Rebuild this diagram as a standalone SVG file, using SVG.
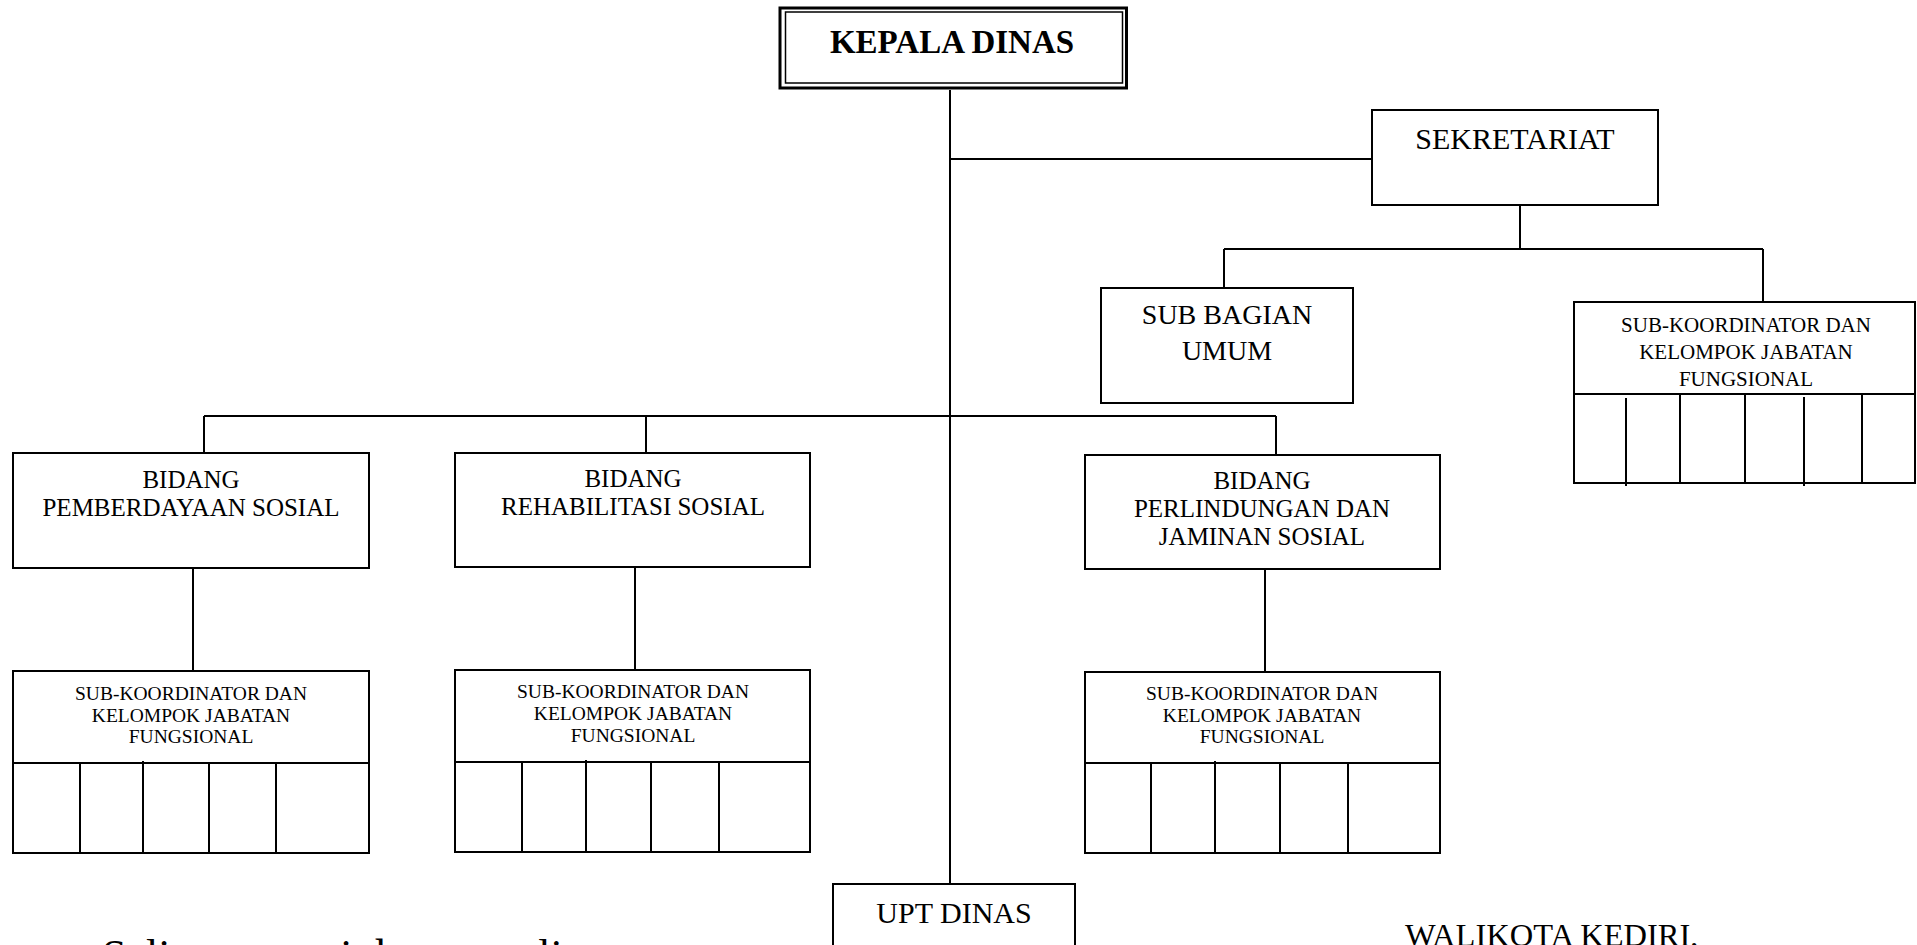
<svg xmlns="http://www.w3.org/2000/svg" width="1917" height="945" viewBox="0 0 1917 945">
<style>
  .box { fill: #ffffff; stroke: #000000; stroke-width: 2; }
  .ln { fill: none; stroke: #000000; stroke-width: 2; }
  .thin { fill: none; stroke: #000000; stroke-width: 1.6; }
  text { font-family: "Liberation Serif", "Times New Roman", serif; fill: #000000; text-anchor: middle; }
  .t30 { font-size: 30px; }
  .t28 { font-size: 28px; }
  .t25 { font-size: 25px; }
  .t21 { font-size: 21px; }
  .t19 { font-size: 19.5px; }
  .head { font-size: 33px; font-weight: bold; }
</style>
<rect x="0" y="0" width="1917" height="945" fill="#ffffff"/>

<g id="connectors">
  <line class="ln" x1="950" y1="90" x2="950" y2="884"/>
  <line class="ln" x1="950" y1="159" x2="1372" y2="159"/>
  <line class="ln" x1="1520" y1="205" x2="1520" y2="249"/>
  <line class="ln" x1="1224" y1="249" x2="1763" y2="249"/>
  <line class="ln" x1="1224" y1="249" x2="1224" y2="288"/>
  <line class="ln" x1="1763" y1="249" x2="1763" y2="302"/>
  <line class="ln" x1="204" y1="416" x2="1276" y2="416"/>
  <line class="ln" x1="204" y1="416" x2="204" y2="453"/>
  <line class="ln" x1="646" y1="416" x2="646" y2="453"/>
  <line class="ln" x1="1276" y1="416" x2="1276" y2="455"/>
  <line class="ln" x1="193" y1="568" x2="193" y2="671"/>
  <line class="ln" x1="635" y1="567" x2="635" y2="670"/>
  <line class="ln" x1="1265" y1="569" x2="1265" y2="672"/>
</g>

<g id="kepala-dinas">
  <rect x="780" y="8" width="346.5" height="80" fill="#ffffff" stroke="#000000" stroke-width="3"/>
  <rect x="785.5" y="12" width="337" height="71" fill="none" stroke="#000000" stroke-width="1.5"/>
  <text class="head" x="952" y="53">KEPALA DINAS</text>
</g>

<g id="sekretariat">
  <rect class="box" x="1372" y="110" width="286" height="95"/>
  <text class="t30" x="1515" y="149">SEKRETARIAT</text>
</g>

<g id="sub-bagian-umum">
  <rect class="box" x="1101" y="288" width="252" height="115"/>
  <text class="t28" x="1227" y="324">SUB BAGIAN</text>
  <text class="t28" x="1227" y="360">UMUM</text>
</g>

<g id="subkoord-sekretariat">
  <rect class="box" x="1574" y="302" width="341" height="181"/>
  <line class="ln" x1="1574" y1="394" x2="1915" y2="394"/>
  <line class="ln" x1="1626" y1="398" x2="1626" y2="486"/>
  <line class="ln" x1="1680" y1="394" x2="1680" y2="483"/>
  <line class="ln" x1="1745" y1="394" x2="1745" y2="483"/>
  <line class="ln" x1="1804" y1="397" x2="1804" y2="486"/>
  <line class="ln" x1="1862" y1="394" x2="1862" y2="483"/>
  <text class="t21" x="1746" y="332">SUB-KOORDINATOR DAN</text>
  <text class="t21" x="1746" y="359">KELOMPOK JABATAN</text>
  <text class="t21" x="1746" y="386">FUNGSIONAL</text>
</g>

<g id="bidang-pemberdayaan">
  <rect class="box" x="13" y="453" width="356" height="115"/>
  <text class="t25" x="191" y="488">BIDANG</text>
  <text class="t25" x="191" y="516">PEMBERDAYAAN SOSIAL</text>
</g>

<g id="subkoord-pemberdayaan">
  <rect class="box" x="13" y="671" width="356" height="182"/>
  <line class="ln" x1="13" y1="763" x2="369" y2="763"/>
  <line class="ln" x1="80" y1="763" x2="80" y2="853"/>
  <line class="ln" x1="143" y1="761" x2="143" y2="853"/>
  <line class="ln" x1="209" y1="763" x2="209" y2="853"/>
  <line class="ln" x1="276" y1="763" x2="276" y2="853"/>
  <text class="t19" x="191" y="700">SUB-KOORDINATOR DAN</text>
  <text class="t19" x="191" y="722">KELOMPOK JABATAN</text>
  <text class="t19" x="191" y="743">FUNGSIONAL</text>
</g>

<g id="bidang-rehabilitasi">
  <rect class="box" x="455" y="453" width="355" height="114"/>
  <text class="t25" x="633" y="487">BIDANG</text>
  <text class="t25" x="633" y="515">REHABILITASI SOSIAL</text>
</g>

<g id="subkoord-rehabilitasi">
  <rect class="box" x="455" y="670" width="355" height="182"/>
  <line class="ln" x1="455" y1="762" x2="810" y2="762"/>
  <line class="ln" x1="522" y1="762" x2="522" y2="852"/>
  <line class="ln" x1="586" y1="760" x2="586" y2="852"/>
  <line class="ln" x1="651" y1="762" x2="651" y2="852"/>
  <line class="ln" x1="719" y1="762" x2="719" y2="852"/>
  <text class="t19" x="633" y="698">SUB-KOORDINATOR DAN</text>
  <text class="t19" x="633" y="720">KELOMPOK JABATAN</text>
  <text class="t19" x="633" y="742">FUNGSIONAL</text>
</g>

<g id="bidang-perlindungan">
  <rect class="box" x="1085" y="455" width="355" height="114"/>
  <text class="t25" x="1262" y="489">BIDANG</text>
  <text class="t25" x="1262" y="517">PERLINDUNGAN DAN</text>
  <text class="t25" x="1262" y="545">JAMINAN SOSIAL</text>
</g>

<g id="subkoord-perlindungan">
  <rect class="box" x="1085" y="672" width="355" height="181"/>
  <line class="ln" x1="1085" y1="763" x2="1440" y2="763"/>
  <line class="ln" x1="1151" y1="763" x2="1151" y2="853"/>
  <line class="ln" x1="1215" y1="761" x2="1215" y2="853"/>
  <line class="ln" x1="1280" y1="763" x2="1280" y2="853"/>
  <line class="ln" x1="1348" y1="763" x2="1348" y2="853"/>
  <text class="t19" x="1262" y="700">SUB-KOORDINATOR DAN</text>
  <text class="t19" x="1262" y="722">KELOMPOK JABATAN</text>
  <text class="t19" x="1262" y="743">FUNGSIONAL</text>
</g>

<g id="upt-dinas">
  <rect class="box" x="833" y="884" width="242" height="80"/>
  <text class="t30" x="954" y="923">UPT DINAS</text>
</g>

<text x="102" y="970" style="font-size:44px; text-anchor:start;">Salinan sesuai dengan aslinya</text>
<text x="1405" y="946" style="font-size:32.5px; text-anchor:start;">WALIKOTA KEDIRI,</text>
</svg>
